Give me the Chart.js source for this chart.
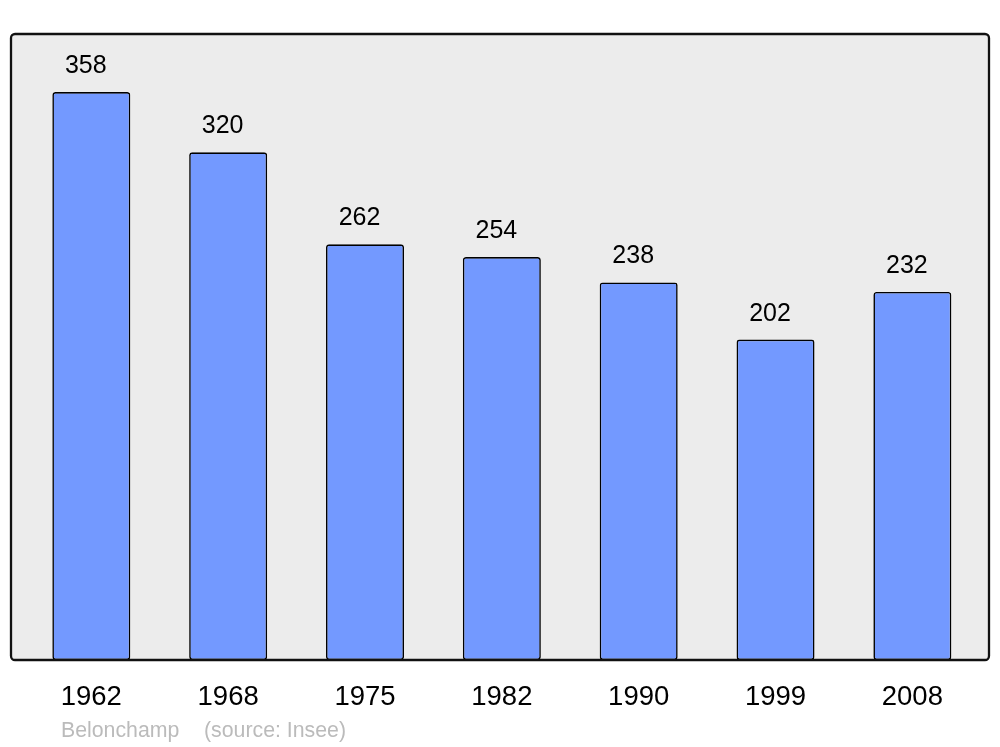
<!DOCTYPE html>
<html>
<head>
<meta charset="utf-8">
<script src="https://cdn.jsdelivr.net/npm/chart.js@4/dist/chart.umd.min.js"></script>
<style>
html,body{margin:0;padding:0;background:#fff;}
#wrap{width:1000px;height:747px;position:relative;}
</style>
</head>
<body>
<div id="wrap"><canvas id="c" width="1000" height="747"></canvas></div>
<script>
const years = ['1962','1968','1975','1982','1990','1999','2008'];
const population = [358, 320, 262, 254, 238, 202, 232];
const placeName = 'Belonchamp';
const sourceText = '(source: Insee)';

const FONT = "'Liberation Sans', Arial, sans-serif";

const framePlugin = {
  id: 'frame',
  beforeDatasetsDraw(chart) {
    const {ctx, chartArea: a} = chart;
    ctx.save();
    ctx.beginPath();
    ctx.roundRect(a.left, a.top, a.right - a.left, a.bottom - a.top, 4);
    ctx.fillStyle = '#ececec';
    ctx.fill();
    ctx.restore();
  },
  afterDatasetsDraw(chart) {
    const {ctx, chartArea: a} = chart;
    ctx.save();
    ctx.beginPath();
    ctx.roundRect(a.left, a.top, a.right - a.left, a.bottom - a.top, 4);
    ctx.lineWidth = 2.3;
    ctx.strokeStyle = '#111';
    ctx.stroke();
    // value labels
    const meta = chart.getDatasetMeta(0);
    ctx.font = '25px ' + FONT;
    ctx.fillStyle = '#000';
    ctx.textAlign = 'center';
    ctx.textBaseline = 'alphabetic';
    meta.data.forEach((bar, i) => {
      ctx.fillText(String(population[i]), bar.x - 5.5, bar.y - 19);
    });
    // footer
    ctx.font = '21.3px ' + FONT;
    ctx.fillStyle = '#bbbbbb';
    ctx.textAlign = 'left';
    ctx.fillText(placeName, a.left + 50, 737);
    ctx.fillText(sourceText, a.left + 193, 737);
    ctx.restore();
  }
};

new Chart(document.getElementById('c'), {
  type: 'bar',
  data: {
    datasets: [{
      data: population.map((v, i) => ({x: i, y: v})),
      backgroundColor: '#7399ff',
      borderColor: '#000',
      borderWidth: 1.6,
      borderRadius: 3,
      borderSkipped: false,
      barPercentage: 0.57,
      categoryPercentage: 1
    }]
  },
  options: {
    responsive: false,
    animation: false,
    devicePixelRatio: 1,
    layout: {padding: {left: 11, right: 11, top: 34, bottom: 17}},
    plugins: {legend: {display: false}, tooltip: {enabled: false}, title: {display: false}},
    scales: {
      x: {
        type: 'linear',
        offset: false,
        min: -0.587,
        max: 6.56,
        grid: {display: false, offset: false},
        border: {display: false},
        afterBuildTicks(scale) {
          scale.ticks = years.map((y, i) => ({value: i}));
        },
        afterFit(scale) { scale.height = 70; },
        ticks: {
          color: '#000',
          font: {family: FONT, size: 27.5},
          padding: 13,
          maxRotation: 0,
          autoSkip: false,
          callback: (v) => years[v]
        }
      },
      y: {
        display: false,
        min: 0,
        max: 394.6
      }
    }
  },
  plugins: [framePlugin]
});
</script>
</body>
</html>
